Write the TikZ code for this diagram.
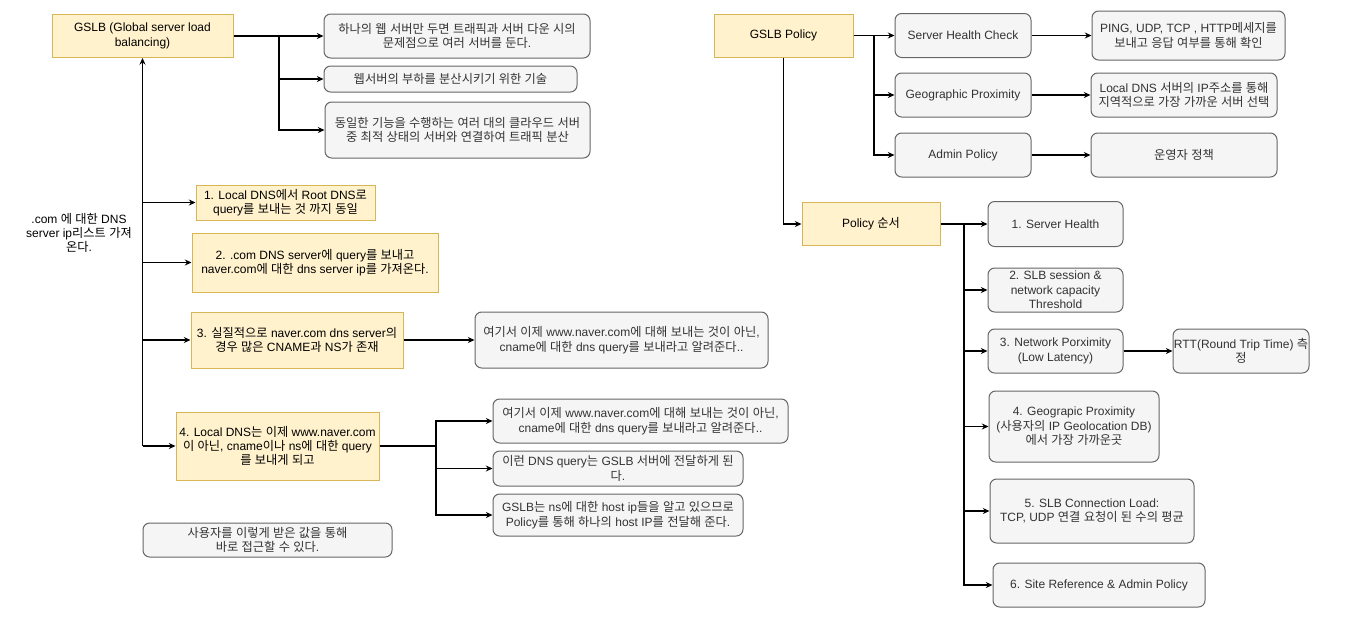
\documentclass[tikz,border=0pt]{standalone}
\usepackage{fontspec}
\usetikzlibrary{arrows.meta}
\setmainfont{Liberation Sans}
\newfontfamily\latinfont{Liberation Sans}
\newfontfamily\krfont{Noto Sans CJK KR}[Scale=1.02]
% hangul syllables get their own font
\XeTeXinterchartokenstate=1
\newXeTeXintercharclass\KrClass
\newcount\krc
\krc="AC00
\loop
  \XeTeXcharclass\krc=\KrClass
  \ifnum\krc<"D7A3 \advance\krc by 1
\repeat
\XeTeXinterchartoks 0 \KrClass = {\krfont}
\XeTeXinterchartoks 4095 \KrClass = {\krfont}
\XeTeXinterchartoks \KrClass 0 = {\latinfont}
\XeTeXinterchartoks \KrClass 4095 = {\latinfont}
\definecolor{yellowfill}{HTML}{FFF2CC}
\definecolor{yellowline}{HTML}{D6B656}
\definecolor{greyfill}{HTML}{F5F5F5}
\definecolor{greyline}{HTML}{666666}
\definecolor{greytext}{HTML}{333333}
\begin{document}
\begin{tikzpicture}[x=0.75pt,y=-0.75pt,
	every node/.style={font=\fontsize{9}{10.8}\selectfont, align=center, inner sep=0pt},
	wh/.style 2 args={minimum width=#1*0.75pt, minimum height=#2*0.75pt},
	ybox/.style={draw=yellowline, fill=yellowfill, line width=0.75pt},
	gbox/.style={draw=greyline, fill=greyfill, text=greytext, rounded corners=5pt, line width=0.75pt},
	arr/.style={-{Stealth[length=5pt,width=4.5pt]}, line width=0.8pt}]
	\useasboundingbox (0,0) rectangle (1346,618);
	% left side
	\node[ybox, wh={181}{43}] (gslb) at (142.5,36) {GSLB (Global server load\\balancing)};
	\node[gbox, wh={266}{44}] (a1) at (457,36) {하나의 웹 서버만 두면 트래픽과 서버 다운 시의\\문제점으로 여러 서버를 둔다.};
	\node[gbox, wh={253}{26}] (a2) at (450.5,79) {웹서버의 부하를 분산시키기 위한 기술};
	\node[gbox, wh={265}{56}] (a3) at (457.5,130) {동일한 기능을 수행하는 여러 대의 클라우드 서버\\중 최적 상태의 서버와 연결하여 트래픽 분산};
	\node (dnstxt) at (79,233) {.com 에 대한 DNS\\server ip리스트 가져\\온다.};
	\node[ybox, wh={179}{35}] (b1) at (285.5,202.5) {1. Local DNS에서 Root DNS로\\query를 보내는 것 까지 동일};
	\node[ybox, wh={246}{59}] (b2) at (315,262.5) {2. .com DNS server에 query를 보내고\\naver.com에 대한 dns server ip를 가져온다.};
	\node[ybox, wh={212}{56}] (b3) at (297,340) {3. 실질적으로 naver.com dns server의\\경우 많은 CNAME과 NS가 존재};
	\node[gbox, wh={293}{56}] (c1) at (621.5,340) {여기서 이제 www.naver.com에 대해 보내는 것이 아닌,\\cname에 대한 dns query를 보내라고 알려준다..};
	\node[ybox, wh={203}{68}] (b4) at (277.5,446) {4. Local DNS는 이제 www.naver.com\\이 아닌, cname이나 ns에 대한 query\\를 보내게 되고};
	\node[gbox, wh={295}{44}] (d1) at (640.5,421) {여기서 이제 www.naver.com에 대해 보내는 것이 아닌,\\cname에 대한 dns query를 보내라고 알려준다..};
	\node[gbox, wh={250}{35}] (d2) at (618,468.5) {이런 DNS query는 GSLB 서버에 전달하게 된\\다.};
	\node[gbox, wh={250}{42}] (d3) at (618,515) {GSLB는 ns에 대한 host ip들을 알고 있으므로\\Policy를 통해 하나의 host IP를 전달해 준다.};
	\node[gbox, wh={249}{34}] (usr) at (267.5,540) {사용자를 이렇게 받은 값을 통해\\바로 접근할 수 있다.};

	\coordinate (gj) at (279,36);
	\draw[arr] (gslb.east) -- (gj) |- (a1.west);
	\draw[arr] (gj) |- (a2.west);
	\draw[arr] (gj) |- (a3.west);
	\coordinate (lt) at (gslb.south |- b4.west);
	\draw[arr] (lt) -- (gslb.south);
	\draw[arr] (lt) -- (b4.west);
	\foreach \n in {b1,b2,b3}
		\draw[arr] (gslb.south |- \n.west) -- (\n.west);
	\draw[arr] (b3.east) -- (c1.west);
	\coordinate (bj) at (436,446);
	\draw[line width=0.8pt] (b4.east) -- (bj);
	\foreach \n in {d1,d2,d3}
		\draw[arr] (bj) |- (\n.west);

	% right side
	\node[ybox, wh={139}{43}] (gp) at (783.5,35.5) {GSLB Policy};
	\node[gbox, wh={136}{44}] (shc) at (963,35.5) {Server Health Check};
	\node[gbox, wh={136}{44}] (geo) at (963,95) {Geographic Proximity};
	\node[gbox, wh={136}{44}] (adm) at (963,155) {Admin Policy};
	\node[gbox, wh={193}{49}] (r1) at (1188.5,35.5) {PING, UDP, TCP , HTTP메세지를\\보내고 응답 여부를 통해 확인};
	\node[gbox, wh={186}{44}] (r2) at (1184,95) {Local DNS 서버의 IP주소를 통해\\지역적으로 가장 가까운 서버 선택};
	\node[gbox, wh={186}{44}] (r3) at (1184,155) {운영자 정책};
	\node[ybox, wh={138}{43}] (po) at (871,224) {Policy 순서};
	\node[gbox, wh={135}{45}] (s1) at (1055.5,224) {1. Server Health};
	\node[gbox, wh={135}{44}] (s2) at (1055.5,290) {2. SLB session \&\\network capacity\\Threshold};
	\node[gbox, wh={135}{44}] (s3) at (1055.5,351) {3. Network Porximity\\(Low Latency)};
	\node[gbox, wh={136}{44}] (rtt) at (1241,351) {RTT(Round Trip Time) 측\\정};
	\node[gbox, wh={170}{71}] (s4) at (1074,426.5) {4. Geograpic Proximity\\(사용자의 IP Geolocation DB)\\에서 가장 가까운곳};
	\node[gbox, wh={204}{64}] (s5) at (1092,511) {5. SLB Connection Load:\\TCP, UDP 연결 요청이 된 수의 평균};
	\node[gbox, wh={212}{44}] (s6) at (1099,585) {6. Site Reference \& Admin Policy};

	\coordinate (pj) at (874,35.5);
	\draw[arr] (gp.east) -- (pj) |- (shc.west);
	\draw[arr] (pj) |- (geo.west);
	\draw[arr] (pj) |- (adm.west);
	\draw[arr] (shc.east) -- (r1.west);
	\draw[arr] (geo.east) -- (r2.west);
	\draw[arr] (adm.east) -- (r3.west);
	\draw[arr] (gp.south) |- (po.west);
	\coordinate (sj) at (964,224);
	\draw[line width=0.8pt] (po.east) -- (sj);
	\foreach \n in {s1,s2,s3,s4,s5,s6}
		\draw[arr] (sj) |- (\n.west);
	\draw[arr] (s3.east) -- (rtt.west);
\end{tikzpicture}
\end{document}
